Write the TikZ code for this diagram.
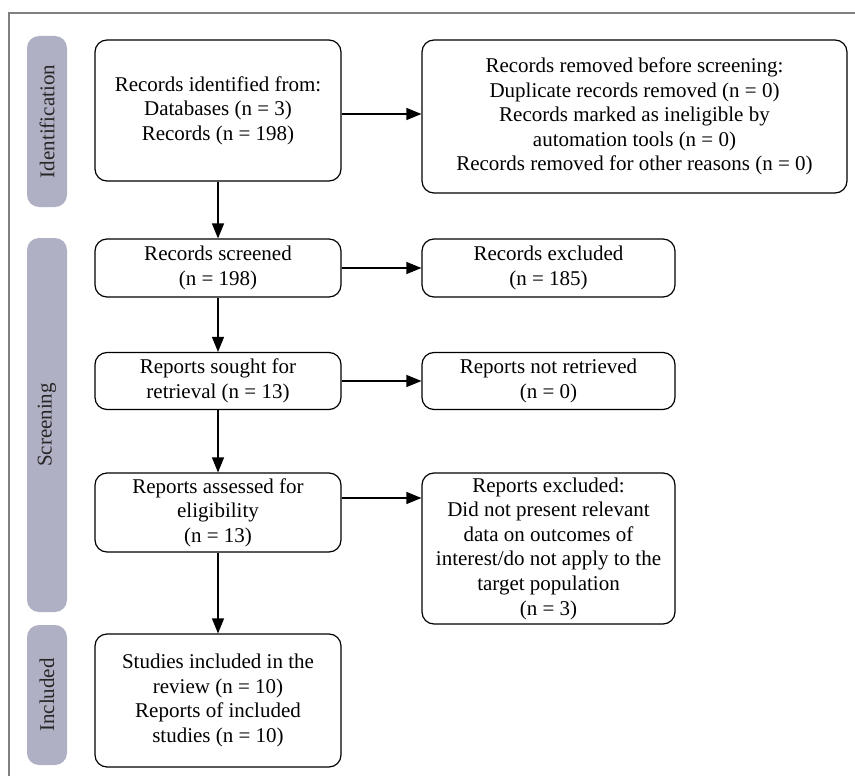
\documentclass[tikz,border=0pt]{standalone}
\usepackage{fontspec}
\setmainfont{Liberation Serif}
\usetikzlibrary{arrows.meta}

\begin{document}
\begin{tikzpicture}[x=1pt,y=-1pt]
  % some colors
  \definecolor{phase}{RGB}{176,176,196}
  \colorlet{frame}{black!50}
  % some styles
  \tikzset{
    box/.style={
      draw=black,
      line width=1.2pt,
      rounded corners=12pt,
      fill=white,
      align=center,
      inner sep=0pt,
      font=\fontsize{21}{24.6}\selectfont,
    },
    stage/.style={
      fill=phase,
      rounded corners=12pt,
      rotate=90,
      minimum height=40pt,
      inner sep=0pt,
      text=black!85,
      font=\fontsize{21}{24.6}\selectfont,
    },
    link/.style={black, line width=1.2pt, -{Triangle[length=15pt,width=12pt]}},
  }
  \useasboundingbox (0,0) rectangle (855,776);
  % outer frame (top and left only)
  \draw[frame, line width=1.2pt] (9,776) -- (9,13) -- (855,13);
  % phase bars
  \node[stage, minimum width=171pt] (s-ident) at (47,121.5) {Identification};
  \node[stage, minimum width=374pt] (s-screen) at (47,425) {Screening};
  \node[stage, minimum width=140pt] (s-incl) at (47,695) {Included};
  % left column
  \node[box, minimum width=246pt, minimum height=141pt] (ident) at (218,110.5)
    {Records identified from:\\Databases (n = 3)\\Records (n = 198)};
  \node[box, minimum width=246pt, minimum height=58pt] (screened) at (218,268)
    {Records screened\\(n = 198)};
  \node[box, minimum width=246pt, minimum height=57pt] (sought) at (218,381)
    {Reports sought for\\retrieval (n = 13)};
  \node[box, minimum width=246pt, minimum height=79pt] (assessed) at (218,512.5)
    {Reports assessed for\\eligibility\\(n = 13)};
  \node[box, minimum width=246pt, minimum height=133pt] (included) at (218,700.5)
    {Studies included in the\\review (n = 10)\\Reports of included\\studies (n = 10)};
  % right column
  \node[box, minimum width=425pt, minimum height=153pt] (removed) at (634.5,116.5)
    {Records removed before screening:\\Duplicate records removed (n = 0)\\Records marked as ineligible by\\automation tools (n = 0)\\Records removed for other reasons (n = 0)};
  \node[box, minimum width=253pt, minimum height=58pt] (excluded) at (548.5,268)
    {Records excluded\\(n = 185)};
  \node[box, minimum width=253pt, minimum height=57pt] (notret) at (548.5,381)
    {Reports not retrieved\\(n = 0)};
  \node[box, minimum width=253pt, minimum height=151pt] (rep-excl) at (548.5,548.5)
    {Reports excluded:\\Did not present relevant\\data on outcomes of\\interest/do not apply to the\\target population\\(n = 3)};
  % arrows down
  \draw[link] (ident) -- (screened);
  \draw[link] (screened) -- (sought);
  \draw[link] (sought) -- (assessed);
  \draw[link] (assessed) -- (included);
  % arrows right
  \draw[link] ([yshift=-3.5pt]ident.east) -- ([yshift=-3.5pt]ident.east -| removed.west);
  \draw[link] (screened) -- (excluded);
  \draw[link] (sought) -- (notret);
  \draw[link] ([yshift=14.5pt]assessed.east) -- ([yshift=14.5pt]assessed.east -| rep-excl.west);
\end{tikzpicture}
\end{document}
